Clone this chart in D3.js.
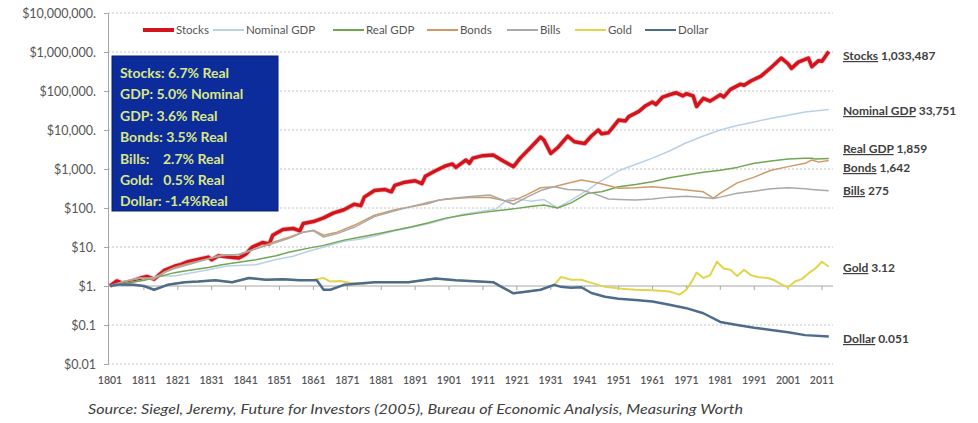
<!DOCTYPE html>
<html>
<head>
<meta charset="utf-8">
<script src="https://cdn.jsdelivr.net/npm/d3@7"></script>
<style>
  body { margin: 0; background: #fff; }
  svg text { font-family: Lato, "Open Sans", sans-serif; }
</style>
</head>
<body>
<div id="chart"></div>
<script>
// ----- Data ([year, value]) -----
const stocks = [[1801,1],[1803,1.35],[1805,1.15],[1807,1.3],[1810,1.6],[1812,1.75],[1814,1.5],[1817,2.5],[1820,3.2],[1822,3.6],[1824,4.2],[1827,4.8],[1830,5.5],[1831,4.7],[1833,6.0],[1836,5.5],[1839,5.2],[1841,6.5],[1843,10],[1846,13],[1848,12],[1849,20],[1852,28],[1855,30],[1857,26],[1858,40],[1861,45],[1864,56],[1867,75],[1870,90],[1873,125],[1875,115],[1876,190],[1879,280],[1882,300],[1884,260],[1885,380],[1888,460],[1891,500],[1893,420],[1894,650],[1897,900],[1900,1200],[1902,1350],[1903,1100],[1906,1700],[1907,1400],[1908,1900],[1911,2200],[1914,2300],[1917,1600],[1920,1150],[1922,1900],[1925,3500],[1928,6600],[1929,5500],[1931,2500],[1933,3500],[1936,7000],[1938,5000],[1941,4500],[1943,7000],[1945,10000],[1946,8000],[1948,8500],[1951,18000],[1953,17000],[1954,22000],[1957,30000],[1959,42000],[1961,52000],[1962,45000],[1964,70000],[1966,80000],[1968,90000],[1970,75000],[1971,85000],[1973,75000],[1974,40000],[1976,65000],[1978,55000],[1981,80000],[1982,70000],[1984,110000],[1987,150000],[1988,140000],[1990,180000],[1993,240000],[1996,400000],[1999,700000],[2001,500000],[2002,380000],[2004,550000],[2007,700000],[2008,420000],[2010,600000],[2011,580000],[2013,1033487]];
const nominalGdp = [[1801,1],[1811,1.4],[1815,1.8],[1820,1.8],[1824,2.1],[1830,2.6],[1835,3.2],[1840,3.4],[1844,3.5],[1850,4.8],[1855,5.8],[1860,8],[1864,10],[1870,14],[1875,16],[1880,20],[1885,26],[1890,32],[1895,40],[1900,52],[1905,68],[1910,80],[1915,95],[1918,160],[1920,180],[1925,150],[1929,165],[1933,100],[1937,160],[1942,290],[1945,450],[1951,900],[1956,1300],[1961,1900],[1966,2900],[1971,4700],[1976,7000],[1981,10000],[1986,13000],[1991,16000],[1996,20000],[2001,24000],[2006,29000],[2013,33751]];
const realGdp = [[1801,1],[1811,1.4],[1814,1.6],[1820,2.2],[1824,2.5],[1830,3.0],[1834,3.5],[1840,4.2],[1844,4.7],[1850,6],[1854,7.4],[1860,9.5],[1864,11],[1870,15],[1875,18],[1880,22],[1885,27],[1890,33],[1895,42],[1900,55],[1905,65],[1910,75],[1915,85],[1920,95],[1925,110],[1929,120],[1933,100],[1937,135],[1942,240],[1946,260],[1951,350],[1956,400],[1961,470],[1966,600],[1971,700],[1976,820],[1981,930],[1986,1100],[1991,1400],[1996,1600],[2001,1800],[2006,1900],[2008,1900],[2009,1800],[2013,1859]];
const bonds = [[1801,1],[1805,1.3],[1810,1.6],[1814,1.5],[1817,2.3],[1820,3],[1824,3.8],[1830,5],[1834,6.3],[1839,6.3],[1844,9],[1850,14],[1854,18],[1858,24],[1861,27],[1864,20],[1868,24],[1873,36],[1879,65],[1885,90],[1889,105],[1895,130],[1898,160],[1903,175],[1908,190],[1913,185],[1918,150],[1920,155],[1924,220],[1928,330],[1932,350],[1936,430],[1940,520],[1945,440],[1951,320],[1956,330],[1961,350],[1966,320],[1971,290],[1976,260],[1979,180],[1981,240],[1986,440],[1991,620],[1996,930],[2001,1150],[2006,1400],[2008,1700],[2010,1500],[2013,1642]];
const bills = [[1801,1],[1805,1.3],[1810,1.6],[1814,1.6],[1817,2.2],[1820,2.8],[1824,3.5],[1830,5],[1834,6],[1839,6.5],[1844,9],[1850,13],[1854,17],[1858,24],[1861,26],[1864,18],[1868,22],[1873,32],[1879,60],[1885,85],[1890,110],[1895,140],[1900,170],[1905,190],[1910,205],[1913,215],[1916,170],[1920,125],[1924,190],[1928,280],[1932,350],[1936,300],[1940,290],[1944,230],[1948,170],[1951,165],[1956,160],[1961,170],[1966,190],[1971,200],[1976,185],[1979,175],[1981,190],[1986,240],[1991,270],[1996,310],[2001,330],[2006,310],[2008,300],[2013,275]];
const gold = [[1801,1],[1804,1.1],[1808,1.07],[1811,1.0],[1814,0.8],[1818,1.07],[1823,1.25],[1827,1.3],[1832,1.4],[1837,1.25],[1842,1.6],[1847,1.45],[1852,1.5],[1857,1.4],[1861,1.45],[1862,1.5],[1864,1.6],[1866,1.3],[1869,1.35],[1872,1.2],[1876,1.15],[1879,1.25],[1889,1.25],[1897,1.55],[1903,1.4],[1914,1.25],[1917,0.9],[1920,0.65],[1923,0.7],[1928,0.8],[1932,1.07],[1934,1.7],[1937,1.45],[1940,1.45],[1943,1.2],[1947,0.95],[1952,0.85],[1956,0.8],[1961,0.78],[1966,0.72],[1969,0.6],[1971,0.8],[1973,1.5],[1974,2.2],[1976,1.6],[1978,1.9],[1980,4.2],[1982,2.8],[1984,2.6],[1986,1.8],[1988,2.6],[1990,1.9],[1992,1.7],[1995,1.6],[1997,1.4],[1999,1.1],[2001,0.93],[2003,1.3],[2005,1.5],[2007,2.1],[2009,2.8],[2011,4.2],[2012,3.6],[2013,3.12]];
const dollar = [[1801,1],[1804,1.1],[1808,1.07],[1811,1.0],[1814,0.8],[1818,1.07],[1823,1.25],[1827,1.3],[1832,1.4],[1837,1.25],[1842,1.6],[1847,1.45],[1852,1.5],[1857,1.4],[1862,1.4],[1864,0.8],[1866,0.8],[1870,1.07],[1879,1.25],[1889,1.25],[1897,1.55],[1903,1.4],[1914,1.25],[1917,0.9],[1920,0.65],[1923,0.7],[1928,0.8],[1932,1.07],[1934,0.95],[1937,0.9],[1940,0.93],[1943,0.66],[1947,0.53],[1951,0.47],[1956,0.44],[1961,0.4],[1966,0.33],[1971,0.27],[1976,0.2],[1981,0.12],[1986,0.1],[1991,0.085],[1996,0.074],[2001,0.065],[2006,0.055],[2013,0.051]];

const seriesNames = ["Stocks", "Nominal GDP", "Real GDP", "Bonds", "Bills", "Gold", "Dollar"];
const seriesData = [stocks, nominalGdp, realGdp, bonds, bills, gold, dollar];
const endValues = ["1,033,487", "33,751", "1,859", "1,642", "275", "3.12", "0.051"];
const yTickValues = [1e7, 1e6, 1e5, 1e4, 1e3, 100, 10, 1, 0.1, 0.01];
const yTickLabels = ["$10,000,000.", "$1,000,000.", "$100,000.", "$10,000.", "$1,000.", "$100.", "$10.", "$1.", "$0.1", "$0.01"];
const xTickYears = d3.range(1801, 2012, 10);
const boxLines = ["Stocks: 6.7% Real", "GDP: 5.0% Nominal", "GDP: 3.6% Real", "Bonds: 3.5% Real", "Bills:    2.7% Real", "Gold:   0.5% Real", "Dollar: -1.4%Real"];
const sourceText = "Source: Siegel, Jeremy, Future for Investors (2005), Bureau of Economic Analysis, Measuring Worth";

// ----- Styles -----
const colors = ["#d3141d", "#b9d1e6", "#72a653", "#cf9a68", "#a9a9a9", "#e2d54c", "#4d6c8c"];
const widths = [3.5, 1.5, 1.5, 1.5, 1.5, 2, 2.5];
const endLabelY = [56, 111, 149, 168, 191, 268, 339];

const width = 978, height = 423;
const svg = d3.select("#chart").append("svg")
    .attr("width", width)
    .attr("height", height);

const x = d3.scaleLinear().domain([1801, 2011]).range([110, 822]);
const y = d3.scaleLog().domain([0.01, 1e7]).range([364, 13]);
const plotLeft = 108, plotRight = 833;

// gridlines
svg.append("g").selectAll("line")
    .data(yTickValues.filter(v => v !== 1))
    .enter().append("line")
    .attr("x1", plotLeft).attr("x2", plotRight)
    .attr("y1", d => y(d)).attr("y2", d => y(d))
    .attr("stroke", "#c4c4c4")
    .attr("stroke-width", 1)
    .attr("stroke-dasharray", "2,2");

// y axis
const yAxis = d3.axisLeft(y).tickValues(yTickValues)
    .tickFormat((d, i) => yTickLabels[i]).tickSize(4).tickPadding(8);
const gy = svg.append("g").attr("transform", `translate(${plotLeft},0)`).call(yAxis);
gy.select(".domain").attr("stroke", "#a6a6a6");
gy.selectAll(".tick line").attr("stroke", "#a6a6a6");
gy.selectAll(".tick text").attr("fill", "#555").style("font-size", "12.5px");

// $1 axis line with tick marks
svg.append("line")
    .attr("x1", plotLeft).attr("x2", plotRight)
    .attr("y1", y(1)).attr("y2", y(1))
    .attr("stroke", "#a6a6a6").attr("stroke-width", 1);
svg.append("g").selectAll("line")
    .data(xTickYears.slice(1))
    .enter().append("line")
    .attr("x1", d => x(d)).attr("x2", d => x(d))
    .attr("y1", y(1)).attr("y2", y(1) + 4)
    .attr("stroke", "#a6a6a6");

// x labels at bottom
svg.append("g").selectAll("text")
    .data(xTickYears)
    .enter().append("text")
    .attr("x", d => x(d))
    .attr("y", 384)
    .attr("text-anchor", "middle")
    .attr("fill", "#555")
    .style("font-size", "10.5px")
    .style("font-weight", "600")
    .text(d => d);

// lines (stocks gets a soft halo like the reference)
const line = d3.line().x(d => x(d[0])).y(d => y(d[1]));
svg.append("path")
    .attr("d", line(stocks))
    .attr("fill", "none")
    .attr("stroke", "#ec7f84")
    .attr("stroke-width", 5)
    .attr("stroke-opacity", 0.5)
    .attr("stroke-linejoin", "round");
svg.append("g").selectAll("path")
    .data(seriesData)
    .enter().append("path")
    .attr("d", line)
    .attr("fill", "none")
    .attr("stroke", (d, i) => colors[i])
    .attr("stroke-width", (d, i) => widths[i])
    .attr("stroke-linejoin", "round");

// legend
const legendX = [143, 213, 333, 427, 507, 575, 645];
const legend = svg.append("g").selectAll("g")
    .data(seriesNames)
    .enter().append("g")
    .attr("transform", (d, i) => `translate(${legendX[i]},30)`);
legend.append("line")
    .attr("x1", 0).attr("x2", 31)
    .attr("stroke", (d, i) => colors[i])
    .attr("stroke-width", (d, i) => i === 0 ? 4 : 2);
legend.append("text")
    .attr("x", 33).attr("y", 4)
    .attr("fill", "#555")
    .style("font-size", "11.5px")
    .text(d => d);

// text box
svg.append("rect")
    .attr("x", 112).attr("y", 56)
    .attr("width", 166).attr("height", 155)
    .attr("fill", "#0b2c9a")
    .attr("stroke", "#0a2070");
svg.append("g").selectAll("text")
    .data(boxLines)
    .enter().append("text")
    .attr("x", 120)
    .attr("y", (d, i) => 78 + i * 21.4)
    .attr("fill", "#dbe686")
    .style("font-size", "14px")
    .style("font-weight", "bold")
    .style("white-space", "pre")
    .attr("xml:space", "preserve")
    .text(d => d);

// end labels
const endLabels = svg.append("g").selectAll("text")
    .data(seriesNames)
    .enter().append("text")
    .attr("x", 843)
    .attr("y", (d, i) => endLabelY[i] + 4)
    .attr("fill", "#404040")
    .style("font-size", "12px")
    .style("font-weight", "bold");
endLabels.append("tspan")
    .style("text-decoration", "underline")
    .text(d => d);
endLabels.append("tspan")
    .text((d, i) => " " + endValues[i]);

// source
svg.append("text")
    .attr("x", 88).attr("y", 414)
    .attr("fill", "#404040")
    .style("font-size", "13px")
    .style("font-style", "italic")
    .attr("textLength", 655)
    .attr("lengthAdjust", "spacingAndGlyphs")
    .text(sourceText);
</script>
</body>
</html>
